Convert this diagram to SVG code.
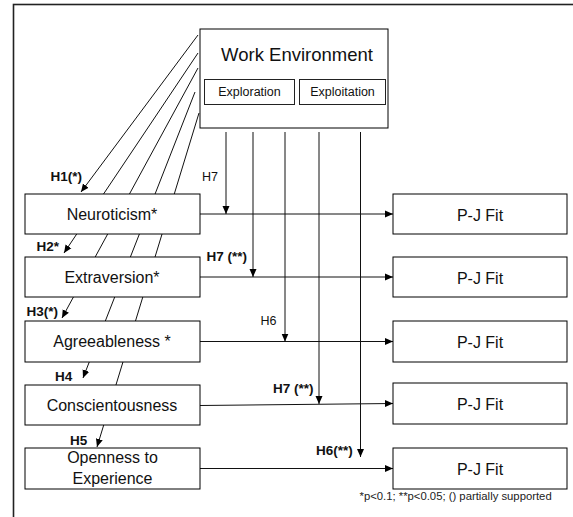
<svg xmlns="http://www.w3.org/2000/svg" width="573" height="517" viewBox="0 0 573 517">
<style>
.box{fill:#fff;stroke:#000;stroke-width:1}
.sub{fill:#fff;stroke:#222;stroke-width:1}
.ln{fill:none;stroke:#111;stroke-width:1}
.t{font-family:"Liberation Sans",Arial,sans-serif;fill:#111;text-anchor:middle}
.n{font-size:16px}
.lab{font-family:"Liberation Sans",Arial,sans-serif;fill:#111;font-size:12.5px}
.b{font-weight:bold;font-size:13.5px}
</style>
<defs>
<marker id="ah" markerUnits="userSpaceOnUse" markerWidth="9" markerHeight="8" refX="8" refY="4" orient="auto">
<path d="M0,0.5 L8,4 L0,7.5 Z" fill="#000"/>
</marker>
</defs>
<rect x="13.5" y="4.5" width="600" height="600" fill="#fff" stroke="#222" stroke-width="1.6"/>
<g id="connectors">
<line class="ln" x1="198" y1="35" x2="81" y2="192" marker-end="url(#ah)"/>
<line class="ln" x1="198" y1="53" x2="64" y2="253" marker-end="url(#ah)"/>
<line class="ln" x1="198" y1="68" x2="62" y2="318" marker-end="url(#ah)"/>
<line class="ln" x1="195" y1="92" x2="83" y2="378" marker-end="url(#ah)"/>
<line class="ln" x1="199" y1="113" x2="97" y2="447" marker-end="url(#ah)"/>
<line class="ln" x1="200" y1="214" x2="393" y2="214" marker-end="url(#ah)"/>
<line class="ln" x1="200" y1="277" x2="393" y2="277" marker-end="url(#ah)"/>
<line class="ln" x1="200" y1="341.5" x2="393" y2="341.5" marker-end="url(#ah)"/>
<line class="ln" x1="200" y1="405.5" x2="393" y2="403.5" marker-end="url(#ah)"/>
<line class="ln" x1="200" y1="468.5" x2="393" y2="468.5" marker-end="url(#ah)"/>
<line class="ln" x1="226" y1="132" x2="226" y2="214" marker-end="url(#ah)"/>
<line class="ln" x1="253" y1="132" x2="253" y2="277" marker-end="url(#ah)"/>
<line class="ln" x1="285" y1="132" x2="285" y2="341.5" marker-end="url(#ah)"/>
<line class="ln" x1="319" y1="132" x2="319" y2="404" marker-end="url(#ah)"/>
<line class="ln" x1="360.5" y1="132" x2="360.5" y2="457" marker-end="url(#ah)"/>
</g>
<g id="labels">
<text class="lab b" x="50.5" y="181">H1(*)</text>
<text class="lab" x="202" y="180.5">H7</text>
<text class="lab b" x="36.5" y="251">H2*</text>
<text class="lab b" x="206.5" y="260.5">H7 (**)</text>
<text class="lab b" x="26.5" y="316">H3(*)</text>
<text class="lab" x="260.5" y="325">H6</text>
<text class="lab b" x="55" y="381">H4</text>
<text class="lab b" x="273" y="393">H7 (**)</text>
<text class="lab b" x="70" y="444.5">H5</text>
<text class="lab b" x="316" y="454.5">H6(**)</text>
<text font-family="Liberation Sans,Arial,sans-serif" font-size="11.3" fill="#222" x="359.5" y="500">*p&lt;0.1; **p&lt;0.05; () partially supported</text>
</g>
<g id="work-environment">
<rect class="box" x="200" y="29" width="188" height="99"/>
<text class="t" x="297" y="60.5" font-size="18.5">Work Environment</text>
<g id="exploration">
<rect class="sub" x="204.5" y="79.5" width="90" height="25"/>
<text class="t" x="249.5" y="96.3" font-size="12.5">Exploration</text>
</g>
<g id="exploitation">
<rect class="sub" x="299.5" y="79.5" width="86" height="25"/>
<text class="t" x="342.5" y="96.3" font-size="12.5">Exploitation</text>
</g>
</g>
<g id="neuroticism">
<rect class="box" x="25" y="194" width="175" height="40"/>
<text class="t n" x="112" y="220">Neuroticism*</text>
</g>
<g id="extraversion">
<rect class="box" x="25" y="257" width="175" height="40"/>
<text class="t n" x="112" y="283">Extraversion*</text>
</g>
<g id="agreeableness">
<rect class="box" x="25" y="321" width="175" height="41"/>
<text class="t n" x="112" y="347">Agreeableness *</text>
</g>
<g id="conscientousness">
<rect class="box" x="25" y="385" width="175" height="40"/>
<text class="t n" x="112" y="410.5">Conscientousness</text>
</g>
<g id="openness">
<rect class="box" x="25" y="448" width="175" height="41"/>
<text class="t n" x="112.5" y="463">Openness to</text>
<text class="t n" x="112.5" y="484">Experience</text>
</g>
<g id="pj1">
<rect class="box" x="393" y="194" width="174" height="40"/>
<text class="t n" x="480" y="220.5">P-J Fit</text>
</g>
<g id="pj2">
<rect class="box" x="393" y="257" width="174" height="40"/>
<text class="t n" x="480" y="283.5">P-J Fit</text>
</g>
<g id="pj3">
<rect class="box" x="393" y="321" width="174" height="41"/>
<text class="t n" x="480" y="347.5">P-J Fit</text>
</g>
<g id="pj4">
<rect class="box" x="393" y="383" width="174" height="41"/>
<text class="t n" x="480" y="409.5">P-J Fit</text>
</g>
<g id="pj5">
<rect class="box" x="393" y="448" width="174" height="41"/>
<text class="t n" x="480" y="474.5">P-J Fit</text>
</g>
</svg>
